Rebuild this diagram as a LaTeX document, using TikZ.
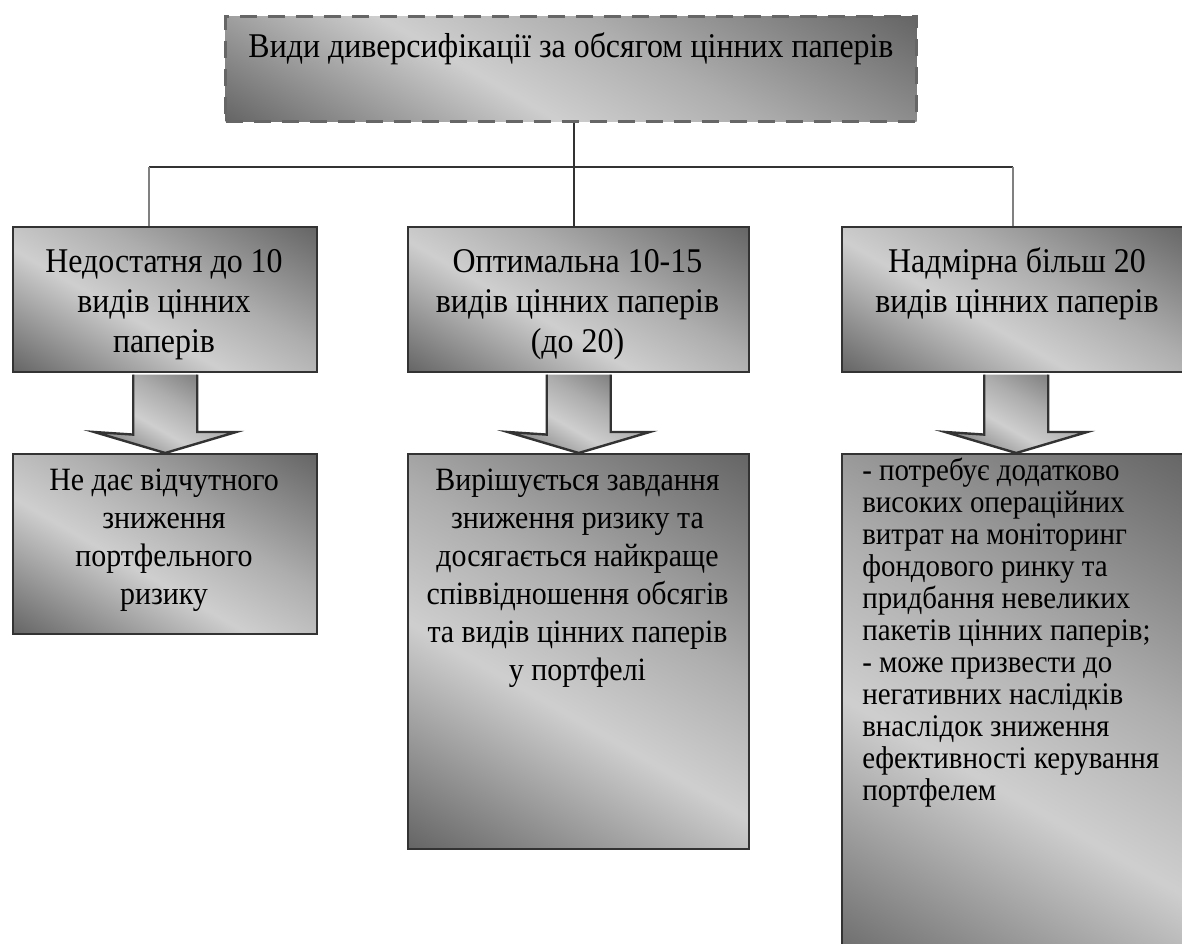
\documentclass[tikz,border=0pt]{standalone}
\usepackage{fontspec}
\setmainfont{Liberation Serif}[FakeStretch=0.92]
\usetikzlibrary{calc}

\definecolor{shdark}{gray}{0.40}
\definecolor{shmid}{gray}{0.68}
\definecolor{shlight}{gray}{0.81}
\definecolor{boxline}{gray}{0.20}
\definecolor{dashline}{gray}{0.40}
\definecolor{stemgray}{gray}{0.50}

% dark corners, light diagonal band
\pgfdeclarehorizontalshading{grayband}{100bp}{%
  color(0bp)=(shdark); color(16bp)=(shdark); color(42bp)=(shlight);
  color(58bp)=(shmid); color(84bp)=(shdark); color(100bp)=(shdark)}

\begin{document}
\begin{tikzpicture}[x=0.75pt,y=-0.75pt,
  panel/.style={draw=boxline, line width=1.8pt, shading=grayband,
    shading angle=60, inner sep=0pt, anchor=north west},
  headpanel/.style={draw=dashline, line width=2.25pt,
    dash pattern=on 12.75pt off 8.25pt, shading=grayband,
    shading angle=60, inner sep=0pt, anchor=north west},
  blockarr/.style={draw=boxline, line width=1.8pt, line join=miter,
    shading=grayband, shading angle=60},
  busline/.style={draw=boxline, line width=1.9pt},
  stemdark/.style={draw=boxline, line width=1.6pt},
  stemlight/.style={draw=stemgray, line width=1.1pt},
  headtxt/.style={inner sep=0pt, font=\fontsize{26}{30}\selectfont},
  midtxt/.style={inner sep=0pt, align=center, anchor=north,
    font=\fontsize{26}{30}\selectfont},
  lowtxt/.style={inner sep=0pt, align=center, anchor=north,
    font=\fontsize{24.4}{28.5}\selectfont},
  listtxt/.style={inner sep=0pt, align=left, anchor=north west,
    font=\fontsize{23.6}{24}\selectfont}
]
\useasboundingbox (0,0) rectangle (1182,944);

% heading box
\node[headpanel, minimum width=518.25pt, minimum height=78.75pt] (T) at (224,15) {};
\node[headtxt, anchor=base] (Tt) at (571,58) {Види диверсифікації за обсягом цінних паперів};

% second row
\node[panel, minimum width=228pt, minimum height=108.75pt] (L1) at (12,226) {};
\node[panel, minimum width=255.75pt, minimum height=108.75pt] (M1) at (407,226) {};
\node[panel, minimum width=261pt, minimum height=108.75pt] (R1) at (841,226) {};

% third row
\node[panel, minimum width=228pt, minimum height=135pt] (L2) at (12,453) {};
\node[panel, minimum width=255.75pt, minimum height=296.25pt] (M2) at (407,453) {};
\node[panel, minimum width=261pt, minimum height=390pt] (R2) at (841,453) {};

% tree connectors
\coordinate (bL) at (149,167);
\coordinate (bM) at (574,167);
\coordinate (bR) at (1013,167);
\draw[busline] (bL) -- (bR);
\draw[stemdark] (T.south -| bM) -- (M1.north -| bM);
\draw[stemlight] (bL) -- (L1.north -| bL);
\draw[stemlight] (bR) -- (R1.north -| bR);

% block arrows
\foreach \a/\b in {L1/L2, M1/M2, R1/R2}{
  \draw[blockarr] ([xshift=-24pt,yshift=-0.9pt]\a.south) -- ++(0,60)
    -- ($(\b.north)+(-71,-21)$) -- (\b.north) -- ($(\b.north)+(71,-21)$)
    -- ($(\b.north)+(32,-21)$) -- ([xshift=24pt,yshift=-0.9pt]\a.south);
}

% texts
\node[midtxt] (L1t) at (164,244) {\strut Недостатня до 10\\видів цінних\\паперів};
\node[midtxt] (M1t) at (577.5,244) {\strut Оптимальна 10-15\\видів цінних паперів\\(до 20)};
\node[midtxt] (R1t) at (1017,244) {\strut Надмірна більш 20\\видів цінних паперів};

\node[lowtxt] (L2t) at (164,464) {\strut Не дає відчутного\\зниження\\портфельного\\ризику};
\node[lowtxt] (M2t) at (577.5,464) {\strut Вирішується завдання\\зниження ризику та\\досягається найкраще\\співвідношення обсягів\\та видів цінних паперів\\у портфелі};
\node[listtxt] (R2t) at (862,458) {\strut - потребує додатково\\високих операційних\\витрат на моніторинг\\фондового ринку та\\придбання невеликих\\пакетів цінних паперів;\\- може призвести до\\негативних наслідків\\внаслідок зниження\\ефективності керування\\портфелем};
\end{tikzpicture}
\end{document}
